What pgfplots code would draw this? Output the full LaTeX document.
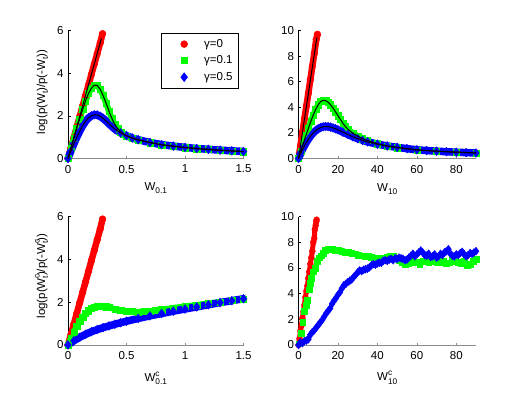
\documentclass[border=0pt]{standalone}
\usepackage{fontspec}
\setmainfont{Liberation Sans}
\usepackage{pgfplots}
\usepackage{pgfplotstable}
\pgfplotsset{compat=1.18}

\definecolor{mred}{rgb}{1,0,0}
\definecolor{mgreen}{rgb}{0,1,0}
\definecolor{mblue}{rgb}{0,0,1}

\newcommand{\fs}{\fontsize{11.5}{13.5}\selectfont}
\newcommand{\sub}[1]{\raisebox{-0.5ex}{\fontsize{8.3}{9}\selectfont #1}}
\newcommand{\supsub}[2]{\rlap{\raisebox{0.9ex}{\fontsize{8.3}{9}\selectfont #1}}\raisebox{-0.5ex}{\fontsize{8.3}{9}\selectfont #2}}

% ---- top row, W_0.1 ----
\pgfplotstableread{
x y
0 0
0.025 0.49
0.05 0.98
0.075 1.48
0.1 1.97
0.125 2.46
0.15 2.95
0.175 3.44
0.2 3.94
0.225 4.43
0.25 4.92
0.275 5.41
0.295 5.85
}\tlr
\pgfplotstableread{
x y
0 0
0.025 0.48
0.05 0.95
0.075 1.42
0.1 1.86
0.125 2.3
0.15 2.7
0.175 3.05
0.2 3.3
0.225 3.44
0.25 3.42
0.275 3.25
0.3 2.95
0.325 2.6
0.35 2.22
0.375 1.88
0.4 1.6
0.425 1.4
0.45 1.25
0.475 1.14
0.5 1.06
0.55 0.95
0.6 0.87
0.7 0.74
0.8 0.64
0.9 0.57
1.0 0.51
1.1 0.46
1.2 0.42
1.3 0.38
1.4 0.35
1.5 0.32
}\tlg
\pgfplotstableread{
x y
0 0
0.025 0.35
0.05 0.68
0.075 1.0
0.1 1.28
0.125 1.53
0.15 1.74
0.175 1.9
0.2 2.0
0.225 2.05
0.25 2.04
0.275 1.98
0.3 1.88
0.325 1.76
0.35 1.63
0.375 1.5
0.4 1.38
0.45 1.2
0.5 1.07
0.55 0.96
0.6 0.88
0.7 0.75
0.8 0.65
0.9 0.58
1.0 0.52
1.1 0.47
1.2 0.43
1.3 0.39
1.4 0.36
1.5 0.33
}\tlb

% ---- top row, W_10 ----
\pgfplotstableread{
x y
0 0
1 1.0
2 2.05
3 3.1
4 4.1
5 5.1
6 6.15
7 7.2
8 8.2
9 9.3
9.6 9.7
}\trr
\pgfplotstableread{
x y
0 0
1.25 0.6
2.5 1.2
3.75 1.8
5 2.35
6.25 2.9
7.5 3.4
8.75 3.85
10 4.2
11.25 4.45
12.5 4.55
13.75 4.52
15 4.4
16.25 4.2
17.5 3.95
18.75 3.65
20 3.35
21.25 3.05
22.5 2.75
23.75 2.5
25 2.3
27.5 1.98
30 1.75
32.5 1.55
35 1.4
40 1.15
45 0.97
50 0.85
60 0.67
70 0.57
80 0.5
90 0.44
}\trg
\pgfplotstableread{
x y
0 0
1.25 0.45
2.5 0.85
3.75 1.2
5 1.5
6.25 1.78
7.5 2.0
8.75 2.18
10 2.32
11.25 2.42
12.5 2.48
13.75 2.5
15 2.49
16.25 2.45
17.5 2.39
18.75 2.32
20 2.24
22.5 2.06
25 1.88
27.5 1.7
30 1.55
32.5 1.42
35 1.3
40 1.12
45 0.98
50 0.87
55 0.77
60 0.68
65 0.62
70 0.57
75 0.53
80 0.49
85 0.46
90 0.43
}\trb

% ---- bottom row, W^c_0.1 ----
\pgfplotstableread{
x y
0 0
0.025 0.49
0.05 0.98
0.075 1.48
0.1 1.97
0.125 2.46
0.15 2.95
0.175 3.44
0.2 3.94
0.225 4.43
0.25 4.92
0.275 5.41
0.295 5.88
}\blr
\pgfplotstableread{
x y
0 0
0.025 0.32
0.05 0.6
0.075 0.87
0.1 1.1
0.125 1.3
0.15 1.47
0.175 1.6
0.2 1.7
0.225 1.77
0.25 1.81
0.275 1.83
0.3 1.82
0.325 1.79
0.35 1.75
0.4 1.68
0.45 1.62
0.5 1.58
0.55 1.56
0.6 1.55
0.65 1.56
0.7 1.58
0.75 1.61
0.8 1.65
0.9 1.73
1.0 1.8
1.1 1.87
1.2 1.94
1.3 2.01
1.4 2.08
1.5 2.15
}\blg
\pgfplotstableread{
x y
0 0
0.05 0.2
0.1 0.36
0.15 0.5
0.2 0.62
0.25 0.72
0.3 0.81
0.35 0.89
0.4 0.97
0.45 1.04
0.5 1.11
0.6 1.24
0.7 1.36
0.8 1.47
0.9 1.58
1.0 1.68
1.1 1.78
1.2 1.88
1.3 1.98
1.4 2.07
1.5 2.16
}\blb

% ---- bottom row, W^c_10 ----
\pgfplotstableread{
x y
0 0
0.5 0.5
1 1.1
1.5 1.5
2 2.1
2.5 2.6
3 3.1
3.5 3.7
4 4.2
4.5 4.6
5 5.2
5.5 5.7
6 6.3
6.5 6.8
7 7.3
7.5 8.0
8 8.3
8.3 9.0
8.7 9.3
9 9.6
9.2 9.75
}\brr
\pgfplotstableread{
x y
0.3 0.1
1.5 0.9
2.1 1.8
3.0 2.6
3.8 3.1
4.4 3.5
5.3 4.3
6.0 4.8
6.6 5.2
7.5 5.7
8.3 6.0
9.5 6.5
10.5 6.8
11.7 6.95
12.7 7.15
13.7 7.35
15 7.45
16 7.5
17.2 7.45
18.5 7.4
20 7.35
21.9 7.3
23.5 7.25
25.3 7.25
27 7.15
28.7 7.1
30.3 7.0
32 6.95
33.7 6.9
35.4 6.9
37 6.85
38.8 6.8
40.5 6.75
42 6.75
43.5 6.8
45 6.85
46.5 6.95
48 6.9
49.5 6.8
51 6.6
52.5 6.45
54 6.3
55.5 6.35
57 6.5
58.5 6.4
60 6.45
61.5 6.3
63 6.5
64.5 6.55
66 6.45
67.5 6.6
69 6.5
70.5 6.4
72 6.45
73.5 6.55
75 6.35
76.5 6.4
78 6.6
79.5 6.5
81 6.45
82.5 6.35
84 6.5
85.5 6.2
87 6.3
88.5 6.55
90 6.65
}\brg
\pgfplotstableread{
x y
0 0
0.9 0.2
2 0.15
3 0.3
4 0.35
5 0.45
6 0.8
7 1.0
8 1.15
9 1.35
10 1.55
11 1.75
12 1.95
13 2.2
14 2.45
15 2.65
16 2.85
17 3.2
18 3.45
19 3.65
20 3.9
21 4.1
22 4.4
23 4.65
24 4.75
25 4.9
26 5.0
27 5.1
28 5.3
29 5.45
30 5.65
31 5.8
32 5.75
33 5.85
34 5.9
35 5.95
36 6.05
37 6.2
38 6.3
39 6.25
40 6.35
41 6.4
42 6.4
43 6.55
44 6.6
45 6.55
46 6.65
47 6.7
48 6.6
49 6.75
50 6.7
51 6.8
52 6.75
53 6.7
54 6.6
55 6.65
56 6.8
57 6.95
58 7.1
59 6.9
60 7.05
61 7.2
62 7.35
63 7.2
64 7.0
65 6.95
66 7.1
67 6.85
68 6.9
69 7.05
70 6.8
71 6.9
72 7.1
73 7.0
74 7.2
75 7.3
76 7.45
77 7.1
78 6.95
79 6.9
80 7.05
81 7.0
82 7.15
83 7.25
84 7.05
85 6.9
86 7.0
87 7.15
88 7.1
89 7.2
90 7.3
}\brb

\pgfplotsset{
  panel/.style={
    scale only axis, xmin=0, ymin=0, clip=false,
    axis x line=bottom, axis y line=left,
    axis line style={-, line width=0.5pt},
    x axis line style={black!45},
    tick align=inside, major tick length=2.5pt,
    xtick style={black!45, line width=0.5pt},
    ytick style={black, line width=0.5pt},
    tick label style={font=\fs},
    xticklabel style={yshift=-3pt},
    yticklabel style={xshift=-1pt},
    label style={font=\fs},
    /pgf/number format/assume math mode=true,
  },
  overlay panel/.style={scale only axis, xmin=0, ymin=0, clip=false, hide axis},
  markleg/.style={legend image code/.code={\path[draw=none, fill=none] (0pt,0pt) (37pt,0pt);
    \draw[##1] plot[only marks] coordinates {(19pt,0pt)};}},
  rband/.style={color=mred, line width=6.5pt, line cap=round, line join=round, forget plot},
  gband/.style={color=mgreen, line width=6pt, line cap=round, line join=round, forget plot},
  bband/.style={color=mblue, line width=7.5pt, line cap=round, line join=round, forget plot},
  rmark/.style={color=mred, only marks, mark=*, mark size=3.4pt, markleg},
  gmark/.style={color=mgreen, only marks, mark=square*, mark size=3.1pt, markleg},
  bmark/.style={color=mblue, only marks, mark=diamond*, mark size=4.4pt, markleg},
  theory/.style={color=black, line width=1pt, forget plot, no marks},
}

\begin{document}
\begin{tikzpicture}
\useasboundingbox (0pt,0pt) rectangle (525pt,394pt);

% top left
\begin{axis}[panel, at={(68pt,235.5pt)}, anchor=south west,
  width=175.5pt, height=128pt, xmax=1.5, ymax=6,
  xtick={0,0.5,1,1.5}, ytick={0,2,4,6},
  xlabel={W\sub{0.1}},
  xlabel style={at={(axis description cs:0.5,-0.25)}, anchor=base},
  ylabel={log(p(W\sub{t})/p(-W\sub{t}))},
  ylabel style={at={(axis description cs:-0.13,0.52)}, anchor=base, rotate=0},
  legend style={at={(axis description cs:0.974,0.98)}, anchor=north east,
    draw=black, line width=0.6pt, inner xsep=4pt, inner ysep=4pt,
    row sep=3pt, font=\fs, nodes={inner sep=2pt}},
  legend cell align=left,
]
\addplot[rband] table {\tlr};
\addplot[rmark] table {\tlr};
\addplot[gband] table {\tlg};
\addplot[gmark] table {\tlg};
\addplot[bband] table {\tlb};
\addplot[bmark] table {\tlb};
\legend{γ=0, γ=0.1, γ=0.5}
\end{axis}
\begin{axis}[overlay panel, at={(68pt,235.5pt)}, anchor=south west,
  width=175.5pt, height=128pt, xmax=1.5, ymax=6]
\addplot[theory] coordinates {(0,0) (0.285,5.62)};
\addplot[theory] table {\tlg};
\addplot[theory] table {\tlb};
\end{axis}

% top right
\begin{axis}[panel, at={(298.5pt,235.5pt)}, anchor=south west,
  width=177.5pt, height=128pt, xmax=90, ymax=10,
  xtick={0,20,40,60,80}, ytick={0,2,4,6,8,10},
  xlabel={W\sub{10}},
  xlabel style={at={(axis description cs:0.5,-0.255)}, anchor=base},
]
\addplot[rband] table {\trr};
\addplot[rmark] table {\trr};
\addplot[gband] table {\trg};
\addplot[gmark] table {\trg};
\addplot[bband] table {\trb};
\addplot[bmark] table {\trb};
\end{axis}
\begin{axis}[overlay panel, at={(298.5pt,235.5pt)}, anchor=south west,
  width=177.5pt, height=128pt, xmax=90, ymax=10]
\addplot[theory] coordinates {(0,0) (9.3,9.45)};
\addplot[theory] table {\trg};
\addplot[theory] table {\trb};
\end{axis}

% bottom left
\begin{axis}[panel, at={(68pt,49pt)}, anchor=south west,
  width=175.5pt, height=128.5pt, xmax=1.5, ymax=6,
  xtick={0,0.5,1,1.5}, ytick={0,2,4,6},
  xlabel={W\supsub{c}{0.1}},
  xlabel style={at={(axis description cs:0.5,-0.285)}, anchor=base},
  ylabel={log(p(W\supsub{c}{t})/p(-W\supsub{c}{t}))},
  ylabel style={at={(axis description cs:-0.13,0.535)}, anchor=base, rotate=0},
]
\addplot[rband] table {\blr};
\addplot[rmark] table {\blr};
\addplot[gband] table {\blg};
\addplot[gmark] table {\blg};
\addplot[bband] table {\blb};
\addplot[bmark] table {\blb};
\end{axis}

% bottom right
\begin{axis}[panel, at={(298.5pt,49pt)}, anchor=south west,
  width=177.5pt, height=128.5pt, xmax=90, ymax=10,
  xtick={0,20,40,60,80}, ytick={0,2,4,6,8,10},
  xlabel={W\supsub{c}{10}},
  xlabel style={at={(axis description cs:0.5,-0.28)}, anchor=base},
]
\addplot[rband, line width=5pt] table {\brr};
\addplot[rmark, mark size=3pt] table {\brr};
\addplot[gmark, mark size=2.9pt] table {\brg};
\addplot[bband, line width=4pt] table {\brb};
\addplot[bmark, mark size=4pt] table {\brb};
\end{axis}
\end{tikzpicture}
\end{document}
